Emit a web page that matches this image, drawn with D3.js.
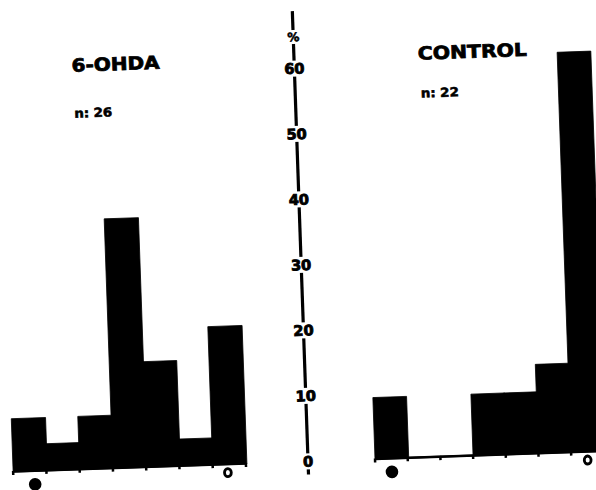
<!DOCTYPE html>
<html>
<head>
<meta charset="utf-8">
<script src="https://cdn.jsdelivr.net/npm/d3@7"></script>
<style>
  body { margin: 0; background: #fff; }
  svg text { font-family: "DejaVu Sans", sans-serif; font-weight: bold; fill: #000; }
</style>
</head>
<body>
<script>
// bins (left to right) and percent of cells per bin
const binLabels = ["1", "2", "3", "4", "5", "6", "7"];
const ohdaValues = [8, 4, 8, 38, 16, 4, 21];
const controlValues = [9.3, 0, 0, 9.3, 9.3, 13.5, 61];
const axisTicks = [0, 10, 20, 30, 40, 50, 60];
const axisUnit = "%";
const ohdaTitle = "6-OHDA";
const ohdaN = "n: 26";
const controlTitle = "CONTROL";
const controlN = "n: 22";

const svgWidth = 596;
const svgHeight = 490;

const svg = d3.select("body").append("svg")
  .attr("width", svgWidth)
  .attr("height", svgHeight);

// the scanned figure sits slightly tilted
const page = svg.append("g").attr("transform", "rotate(-2, 298, 245)");

const yScale = d3.scaleLinear().domain([0, 60]).range([461, 68]);
const axisX = 300.5;

// shared vertical axis in the middle
page.append("line")
  .attr("x1", axisX).attr("x2", axisX)
  .attr("y1", yScale(-2.1)).attr("y2", yScale(68.7))
  .attr("stroke", "#000")
  .attr("stroke-width", 3.2);

const yAxis = d3.axisLeft(yScale).tickValues(axisTicks).tickSize(0).tickPadding(0);
const axisG = page.append("g")
  .attr("transform", `translate(${axisX}, 0)`)
  .call(yAxis);
axisG.select(".domain").remove();
// white gap in the axis line behind each label
axisG.selectAll(".tick").insert("rect", "text")
  .attr("x", -11).attr("y", -8)
  .attr("width", 22).attr("height", 16)
  .attr("fill", "#fff");
axisG.selectAll("text")
  .attr("x", 0)
  .attr("dy", "0.36em")
  .attr("text-anchor", "middle")
  .attr("font-size", 14.5)
  .attr("font-family", "DejaVu Sans")
  .attr("font-weight", "bold")
  .attr("fill", "#000")
  .attr("stroke", "#000")
  .attr("stroke-width", 0.9);

page.append("rect")
  .attr("x", axisX - 6).attr("y", 30)
  .attr("width", 12).attr("height", 14)
  .attr("fill", "#fff");
page.append("text")
  .attr("x", axisX)
  .attr("y", 37)
  .attr("dy", "0.36em")
  .attr("text-anchor", "middle")
  .attr("font-size", 12)
  .attr("stroke", "#000")
  .attr("stroke-width", 0.6)
  .text(axisUnit);

function histogram(values, x0, x1, title, titleX, titleW, nText, nX, nY, dotX, ringX) {
  const xScale = d3.scaleBand().domain(binLabels).range([x0, x1]).padding(0);
  const g = page.append("g");

  g.selectAll(".bar")
    .data(values)
    .enter()
    .append("rect")
    .attr("class", "bar")
    .attr("x", (d, i) => xScale(binLabels[i]))
    .attr("width", xScale.bandwidth() + 1)
    .attr("y", (d) => yScale(d))
    .attr("height", (d) => yScale(0) - yScale(d) + 1)
    .attr("fill", "#000")
    .attr("stroke", "#000")
    .attr("stroke-width", 0.8);

  // baseline with small ticks at bin edges
  g.append("line")
    .attr("x1", x0).attr("x2", x1)
    .attr("y1", yScale(0) + 0.5).attr("y2", yScale(0) + 0.5)
    .attr("stroke", "#000")
    .attr("stroke-width", 2.5);

  const edges = binLabels.map((b) => xScale(b)).concat([x1]);
  g.selectAll(".edge")
    .data(edges)
    .enter()
    .append("line")
    .attr("x1", (d) => d).attr("x2", (d) => d)
    .attr("y1", yScale(0)).attr("y2", yScale(0) + 4)
    .attr("stroke", "#000")
    .attr("stroke-width", 2.5);

  g.append("circle")
    .attr("cx", dotX).attr("cy", 475)
    .attr("r", 6.3)
    .attr("fill", "#000");

  g.append("ellipse")
    .attr("cx", ringX).attr("cy", 470)
    .attr("rx", 3.4).attr("ry", 4)
    .attr("fill", "none")
    .attr("stroke", "#000")
    .attr("stroke-width", 2.8);

  g.append("text")
    .attr("x", titleX)
    .attr("y", 64)
    .attr("text-anchor", "middle")
    .attr("font-size", 18)
    .attr("stroke", "#000")
    .attr("stroke-width", 0.8)
    .attr("textLength", titleW)
    .attr("lengthAdjust", "spacingAndGlyphs")
    .text(title);

  g.append("text")
    .attr("x", nX)
    .attr("y", nY)
    .attr("font-size", 12.5)
    .attr("stroke", "#000")
    .attr("stroke-width", 0.6)
    .attr("textLength", 38)
    .attr("lengthAdjust", "spacingAndGlyphs")
    .text(nText);
}

histogram(ohdaValues, 5.4, 238.3, ohdaTitle, 122, 88, ohdaN, 79, 110, 27, 220);
histogram(controlValues, 367.5, 596.4, controlTitle, 479, 109, controlN, 426, 102, 384, 580);
</script>
</body>
</html>
